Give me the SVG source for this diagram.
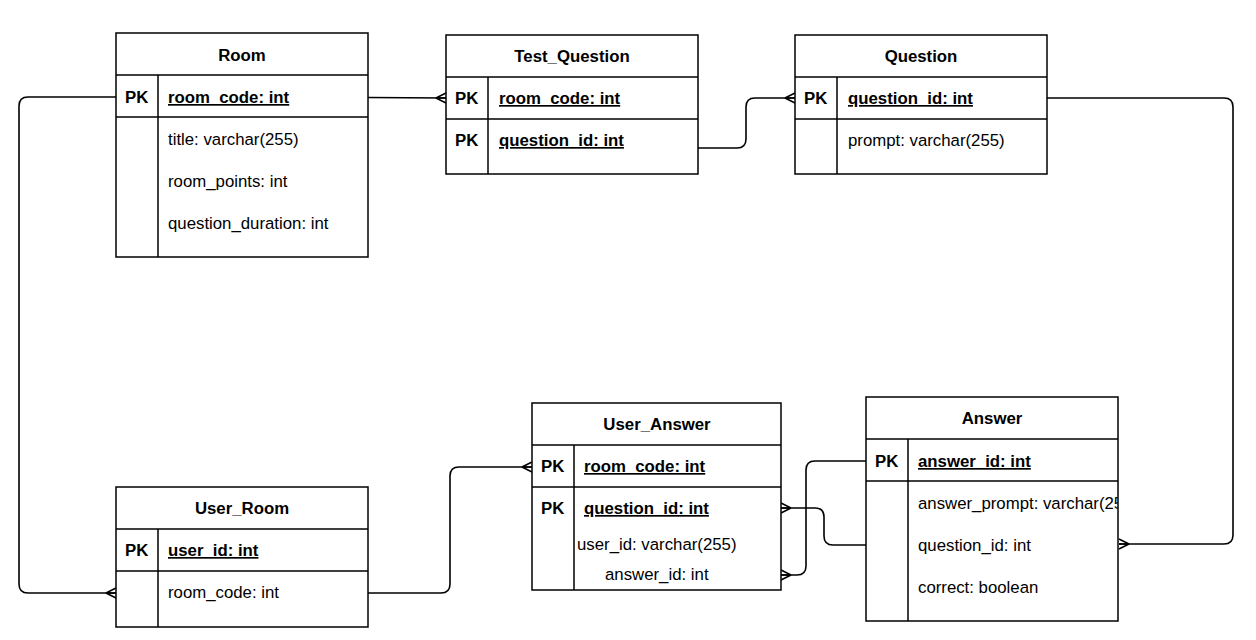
<svg xmlns="http://www.w3.org/2000/svg" width="1256" height="640" viewBox="0 0 1256 640">
<style>
.box{fill:#fff;stroke:#000;stroke-width:1.5}
.ln{stroke:#000;stroke-width:1.5;fill:none}
.t{font-family:"Liberation Sans",Arial,Helvetica,sans-serif;font-size:16.8px;fill:#000}
.h{font-weight:bold;text-anchor:middle}
.b{font-weight:bold}
.u{font-weight:bold;text-decoration:underline}
.c{stroke:#000;stroke-width:1.6;fill:none;marker-end:url(#many)}
</style>
<defs>
<marker id="many" markerUnits="userSpaceOnUse" markerWidth="12" markerHeight="12" viewBox="0 0 12 12" refX="11" refY="6" orient="auto">
<path d="M1,6 L11,1 M1,6 L11,11 M1,6 L11,6" fill="none" stroke="#000" stroke-width="1.6"/>
</marker>
<clipPath id="ansClip"><rect x="866" y="397" width="252" height="224"/></clipPath>
</defs>
<rect width="1256" height="640" fill="#fff"/>

<g id="connectors">
<path class="c" d="M368,97.5 L446,98"/>
<path class="c" d="M698,148 H737 Q746,148 746,139 V107 Q746,98 755,98 H795"/>
<path class="c" d="M1047,98 H1224 Q1233,98 1233,107 V535 Q1233,544 1224,544 H1119"/>
<path class="c" d="M116,97 H28 Q19,97 19,106 V584 Q19,593 28,593 H116"/>
<path class="c" d="M368,593 H441 Q450,593 450,584 V476 Q450,467 459,467 H532"/>
<path class="c" d="M866,461 H815 Q806,461 806,470 V566 Q806,575 797,575 H781"/>
<path class="c" d="M866,545 H833 Q824,545 824,536 V517 Q824,508 815,508 H781"/>
</g>

<g id="Room">
<rect class="box" x="116" y="33" width="252" height="224"/>
<path class="ln" d="M116,75 H368 M116,117 H368 M158,75 V257"/>
<text class="t h" x="242" y="61">Room</text>
<text class="t b" x="125" y="103">PK</text>
<text class="t u" x="168" y="103">room_code: int</text>
<text class="t" x="168" y="145">title: varchar(255)</text>
<text class="t" x="168" y="187">room_points: int</text>
<text class="t" x="168" y="229">question_duration: int</text>
</g>

<g id="Test_Question">
<rect class="box" x="446" y="35" width="252" height="139"/>
<path class="ln" d="M446,77 H698 M446,119 H698 M488,77 V174"/>
<text class="t h" x="572" y="62">Test_Question</text>
<text class="t b" x="455" y="104">PK</text>
<text class="t u" x="499" y="104">room_code: int</text>
<text class="t b" x="455" y="146">PK</text>
<text class="t u" x="499" y="146">question_id: int</text>
</g>

<g id="Question">
<rect class="box" x="795" y="35" width="252" height="139"/>
<path class="ln" d="M795,77 H1047 M795,119 H1047 M837,77 V174"/>
<text class="t h" x="921" y="62">Question</text>
<text class="t b" x="804" y="104">PK</text>
<text class="t u" x="848" y="104">question_id: int</text>
<text class="t" x="848" y="146">prompt: varchar(255)</text>
</g>

<g id="User_Room">
<rect class="box" x="116" y="487" width="252" height="140"/>
<path class="ln" d="M116,529 H368 M116,571 H368 M158,529 V627"/>
<text class="t h" x="242" y="514">User_Room</text>
<text class="t b" x="125" y="556">PK</text>
<text class="t u" x="168" y="556">user_id: int</text>
<text class="t" x="168" y="598">room_code: int</text>
</g>

<g id="User_Answer">
<rect class="box" x="532" y="403" width="249" height="187"/>
<path class="ln" d="M532,445 H781 M532,487 H781 M574,445 V590"/>
<text class="t h" x="657" y="430">User_Answer</text>
<text class="t b" x="541" y="472">PK</text>
<text class="t u" x="584" y="472">room_code: int</text>
<text class="t b" x="541" y="514">PK</text>
<text class="t u" x="584" y="514">question_id: int</text>
<text class="t" x="577" y="550">user_id: varchar(255)</text>
<text class="t" x="605" y="580">answer_id: int</text>
</g>

<g id="Answer">
<rect class="box" x="866" y="397" width="252" height="224"/>
<path class="ln" d="M866,439 H1118 M866,481 H1118 M908,439 V621"/>
<text class="t h" x="992" y="424">Answer</text>
<text class="t b" x="875" y="467">PK</text>
<text class="t u" x="918" y="467">answer_id: int</text>
<text class="t" x="918" y="509" clip-path="url(#ansClip)">answer_prompt: varchar(255)</text>
<text class="t" x="918" y="551">question_id: int</text>
<text class="t" x="918" y="593">correct: boolean</text>
</g>
</svg>
